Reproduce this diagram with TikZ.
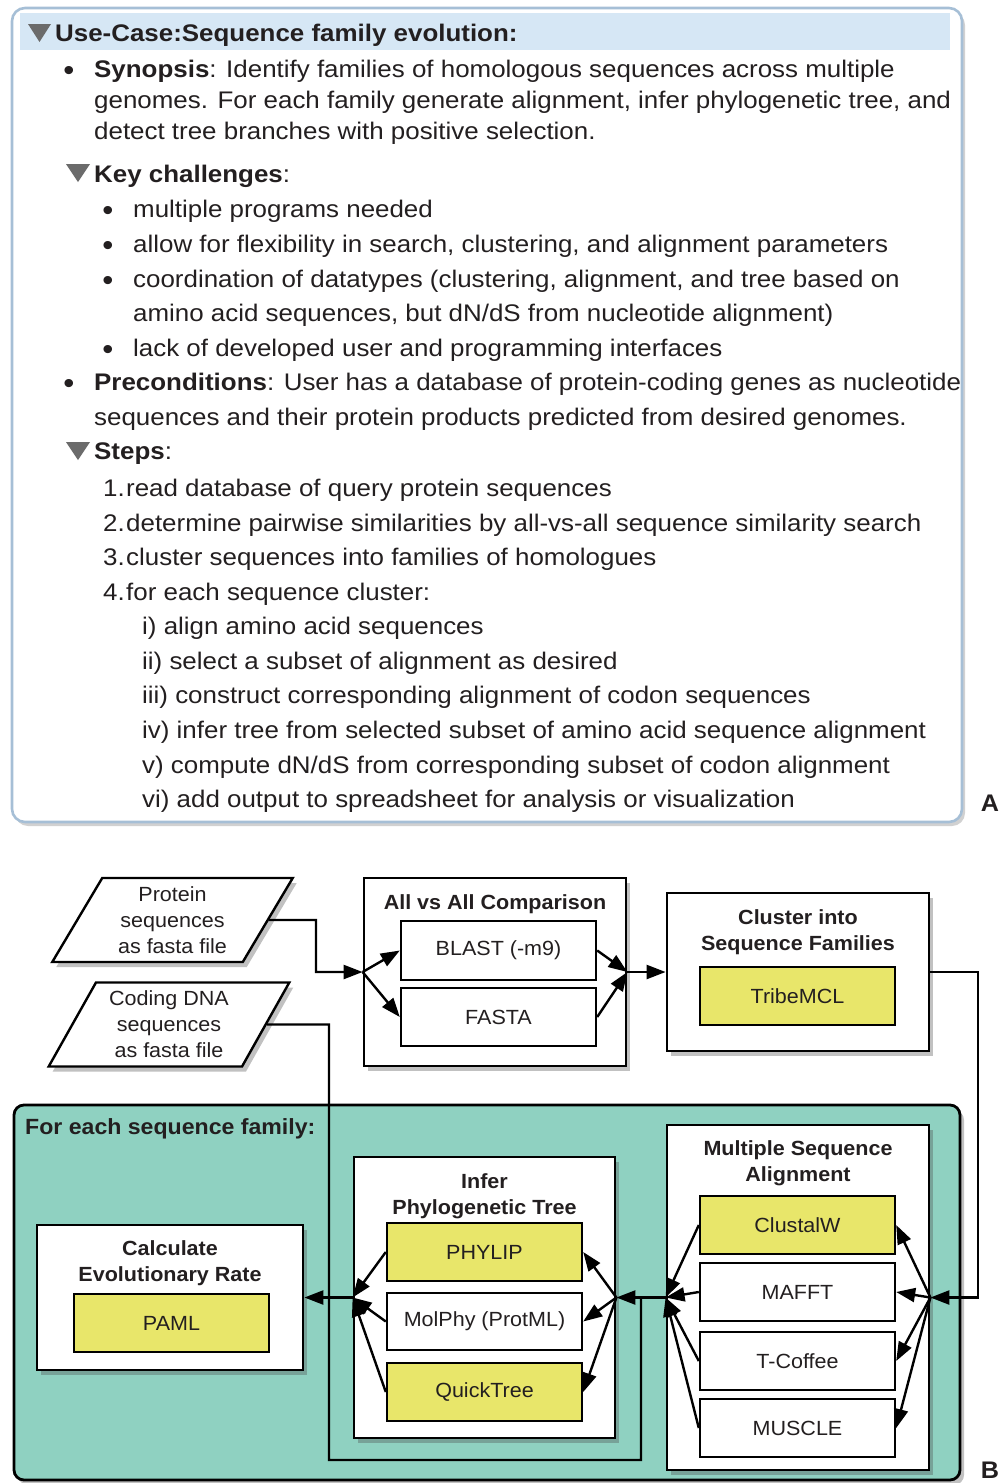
\documentclass[tikz,border=0pt]{standalone}
\usepackage{fontspec}
\setmainfont{Liberation Sans}
\newfontfamily\famA[FakeStretch=1.08]{Liberation Sans}
\newfontfamily\famB[FakeStretch=1.05]{Liberation Sans}
\usetikzlibrary{shapes.geometric,arrows.meta,shadows}
\definecolor{txt}{HTML}{231F20}
\definecolor{hdr}{HTML}{D6E7F5}
\definecolor{frameA}{HTML}{A6BFD6}
\definecolor{tealbg}{HTML}{8FD1C1}
\definecolor{yel}{HTML}{E8E66A}
\definecolor{tri}{HTML}{6B6B6B}
\newcommand\fontA{\famA\fontsize{24}{31}\selectfont}
\newcommand\fontB{\famB\fontsize{20.5}{26}\selectfont}
\begin{document}
\begin{tikzpicture}[x=1pt,y=-1pt,
  tA/.style={anchor=base west,inner sep=0pt,font=\fontA,text=txt},
  bul/.style={anchor=base,inner sep=0pt,font=\famB\fontsize{30}{31}\selectfont,text=txt,yshift=-3pt},
  shd/.style={drop shadow={shadow xshift=4pt,shadow yshift=-5pt,opacity=0.35,fill=black!70}},
  obox/.style={draw=black,line width=2.8pt,fill=white,inner sep=0pt,shd},
  ibox/.style={draw=black,line width=2.4pt,fill=white,inner sep=0pt,minimum width=195pt,minimum height=58pt,font=\fontB,text=txt},
  ybox/.style={ibox,fill=yel},
  ttl/.style={align=center,font=\fontB\bfseries,text=txt,inner sep=0pt},
  para/.style={trapezium,trapezium left angle=60,trapezium right angle=120,trapezium stretches=true,draw=black,line width=2.4pt,fill=white,inner sep=0pt,minimum width=241pt,minimum height=84pt,align=center,font=\fontB,text=txt,shd},
  arr/.style={line width=2.4pt,-{Triangle[length=19pt,width=14pt]}},
  ln/.style={line width=2.4pt},
  lbl/.style={font=\famB\fontsize{24}{28}\selectfont\bfseries,text=txt,inner sep=0pt}]
\useasboundingbox (0,0) rectangle (1000,1483);

% ---------------- Panel A ----------------
\node[draw=frameA,line width=2.6pt,fill=white,rounded corners=13pt,minimum width=950pt,minimum height=814pt,inner sep=0pt,drop shadow={shadow xshift=3pt,shadow yshift=-4pt,opacity=0.3,fill=black!60}] (frameA) at (487,415) {};
\node[fill=hdr,minimum width=930pt,minimum height=37pt,inner sep=0pt] (hdrband) at (485,31.5) {};
\fill[tri] (28,24) -- (51,24) -- (39.5,42) -- cycle;
\fill[tri] (66,164) -- (90,164) -- (78,182) -- cycle;
\fill[tri] (66,442) -- (90,442) -- (78,460) -- cycle;

\node[tA,font=\fontA\bfseries] (hd) at (55,41) {Use-Case:Sequence family evolution:};
\node[bul] (b1) at (69,77) {•};
\node[tA] (s1) at (94,77) {\textbf{Synopsis}: Identify families of homologous sequences across multiple};
\node[tA] (s2) at (94,108) {genomes. For each family generate alignment, infer phylogenetic tree, and};
\node[tA] (s3) at (94,139) {detect tree branches with positive selection.};
\node[tA] (kc) at (94,182) {\textbf{Key challenges}:};
\node[bul] (b2) at (108,217) {•};
\node[tA] (c1) at (133,217) {multiple programs needed};
\node[bul] (b3) at (108,252) {•};
\node[tA] (c2) at (133,252) {allow for flexibility in search, clustering, and alignment parameters};
\node[bul] (b4) at (108,287) {•};
\node[tA] (c3) at (133,287) {coordination of datatypes (clustering, alignment, and tree based on};
\node[tA] (c4) at (133,321) {amino acid sequences, but dN/dS from nucleotide alignment)};
\node[bul] (b5) at (108,356) {•};
\node[tA] (c5) at (133,356) {lack of developed user and programming interfaces};
\node[bul] (b6) at (69,390) {•};
\node[tA] (p1) at (94,390) {\textbf{Preconditions}: User has a database of protein-coding genes as nucleotide};
\node[tA] (p2) at (94,425) {sequences and their protein products predicted from desired genomes.};
\node[tA] (st) at (94,459) {\textbf{Steps}:};
\node[tA] (k1) at (103,496) {1.};
\node[tA] (n1) at (126,496) {read database of query protein sequences};
\node[tA] (k2) at (103,531) {2.};
\node[tA] (n2) at (126,531) {determine pairwise similarities by all-vs-all sequence similarity search};
\node[tA] (k3) at (103,565) {3.};
\node[tA] (n3) at (126,565) {cluster sequences into families of homologues};
\node[tA] (k4) at (103,600) {4.};
\node[tA] (n4) at (126,600) {for each sequence cluster:};
\node[tA] (r1) at (142,634) {i) align amino acid sequences};
\node[tA] (r2) at (142,669) {ii) select a subset of alignment as desired};
\node[tA] (r3) at (142,703) {iii) construct corresponding alignment of codon sequences};
\node[tA] (r4) at (142,738) {iv) infer tree from selected subset of amino acid sequence alignment};
\node[tA] (r5) at (142,773) {v) compute dN/dS from corresponding subset of codon alignment};
\node[tA] (r6) at (142,807) {vi) add output to spreadsheet for analysis or visualization};
\node[lbl] (labA) at (990,803) {A};

% ---------------- Panel B ----------------
\node[draw=black,line width=2.8pt,fill=tealbg,rounded corners=10pt,minimum width=946pt,minimum height=375pt,inner sep=0pt,shd] (teal) at (487,1292.5) {};
\node[anchor=west,font=\famB\fontsize{22}{26}\selectfont\bfseries,text=txt,inner sep=0pt] (fe) at (25,1129) {For each sequence family:};

\node[para] (prot) at (172.5,920) {Protein\\sequences\\as fasta file};
\node[para] (dna) at (169,1024.5) {Coding DNA\\sequences\\as fasta file};

\node[obox,minimum width=262pt,minimum height=188pt] (ava) at (495,972) {};
\node[ttl] (avat) at (495,904) {All vs All Comparison};
\node[ibox,minimum height=59pt] (blast) at (498.5,950.5) {BLAST (-m9)};
\node[ibox] (fasta) at (498.5,1017) {FASTA};

\node[obox,minimum width=262pt,minimum height=158pt] (clu) at (798,972) {};
\node[ttl] (clut) at (798,932) {Cluster into\\Sequence Families};
\node[ybox] (tribe) at (797.5,996) {TribeMCL};

\node[obox,minimum width=262pt,minimum height=345pt] (msa) at (798,1297.5) {};
\node[ttl] (msat) at (798,1163.5) {Multiple Sequence\\Alignment};
\node[ybox] (clustal) at (797.5,1225) {ClustalW};
\node[ibox] (mafft) at (797.5,1292) {MAFFT};
\node[ibox] (tcoffee) at (797.5,1361) {T-Coffee};
\node[ibox] (muscle) at (797.5,1428) {MUSCLE};

\node[obox,minimum width=261pt,minimum height=281pt] (phy) at (484.5,1297.5) {};
\node[ttl] (phyt) at (484.5,1196) {Infer\\Phylogenetic Tree};
\node[ybox] (phylip) at (484.5,1252) {PHYLIP};
\node[ibox,minimum height=57pt] (molphy) at (484.5,1321.5) {MolPhy (ProtML)};
\node[ybox] (quick) at (484.5,1392) {QuickTree};

\node[obox,minimum width=266pt,minimum height=145pt] (calc) at (170,1297.5) {};
\node[ttl] (calct) at (170,1263.5) {Calculate\\Evolutionary Rate};
\node[ybox] (paml) at (171.5,1323) {PAML};

\node[lbl] (labB) at (990,1470) {B};

% connectors
\coordinate (pa) at (316,920);
\coordinate (pb) at (316,972);
\draw[arr] (prot.east) -- (pa) -- (pb) -- (ava.west);
\draw[arr] (ava.west) -- (blast.west);
\draw[arr] (ava.west) -- (fasta.west);
\draw[arr] (blast.east) -- (ava.east);
\draw[arr] (fasta.east) -- (ava.east);
\draw[arr] (ava.east) -- (clu.west);

\coordinate (ca) at (978,972);
\coordinate (cb) at (978,1297.5);
\draw[arr] (clu.east) -- (ca) -- (cb) -- (msa.east);
\draw[arr] (msa.east) -- (clustal.east);
\draw[arr] (msa.east) -- (mafft.east);
\draw[arr] (msa.east) -- (tcoffee.east);
\draw[arr] (msa.east) -- (muscle.east);
\draw[arr] (clustal.west) -- (msa.west);
\draw[arr] (mafft.west) -- (msa.west);
\draw[arr] (tcoffee.west) -- (msa.west);
\draw[arr] (muscle.west) -- (msa.west);
\draw[arr] (msa.west) -- (phy.east);

\coordinate (da) at (329,1024.5);
\coordinate (db) at (329,1460);
\coordinate (dc) at (641,1460);
\coordinate (dd) at (641,1297.5);
\draw[ln] (dna.east) -- (da) -- (db) -- (dc) -- (dd);

\draw[arr] (phy.east) -- (phylip.east);
\draw[arr] (phy.east) -- (molphy.east);
\draw[arr] (phy.east) -- (quick.east);
\draw[arr] (phylip.west) -- (phy.west);
\draw[arr] (molphy.west) -- (phy.west);
\draw[arr] (quick.west) -- (phy.west);
\draw[arr] (phy.west) -- (calc.east);
\end{tikzpicture}
\end{document}
